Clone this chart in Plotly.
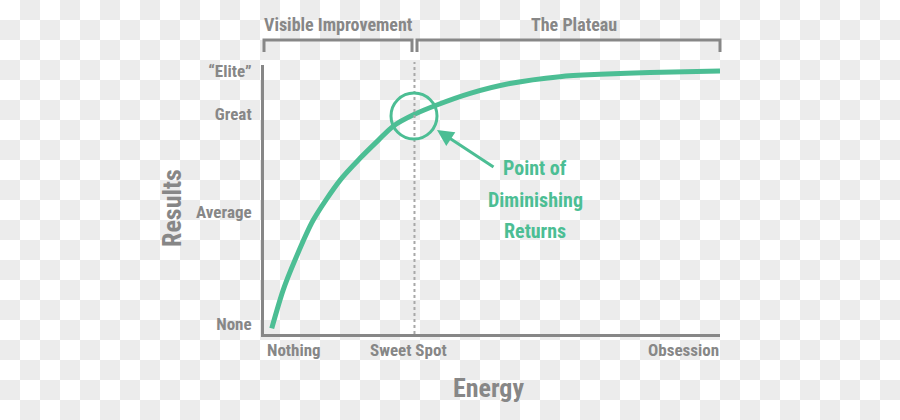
import zlib, struct, base64
import plotly.graph_objects as go

# ---- data ----
energy = [1.7, 4.2, 6.8, 10.8, 16.7, 21.1, 25.1, 28.4, 33.1, 37.9, 45.2, 53.9, 64.9, 73.7, 84.6, 100]
results = [-1.7, 13.4, 25.3, 41.1, 56.9, 65.6, 72.7, 78.3, 83.0, 86.6, 91.2, 95.1, 97.8, 98.7, 99.4, 100]
result_levels = [0, 44.3, 83, 100]
result_labels = ["None", "Average", "Great", "\u201cElite\u201d"]
energy_labels = ["Nothing", "Sweet Spot", "Obsession"]
sweet_spot = 33
phases = ["Visible Improvement", "The Plateau"]
callout = ["Point of", "Diminishing", "Returns"]

GREY = "#878787"
GREEN = "#4cbe94"
FONT = "Roboto Condensed, DejaVu Sans Condensed, sans-serif"
WEIGHT = "bold"

W, H = 900, 420
L, R, T, B = 264, 180, 65, 86
PW, PH = W - L - R, H - T - B


def px(xp):
    return (xp - L) / PW


def py(yp):
    return (H - B - yp) / PH


def checker_png(w, h, cell, c1, c2):
    rows = []
    for y in range(h):
        row = bytearray([0])
        ry = y // cell
        for cx in range(0, w, cell):
            col = c2 if ((cx // cell + ry) % 2) else c1
            row += bytes(col) * min(cell, w - cx)
        rows.append(bytes(row))
    raw = b"".join(rows)

    def chunk(t, d):
        c = struct.pack(">I", len(d)) + t + d
        return c + struct.pack(">I", zlib.crc32(t + d) & 0xFFFFFFFF)

    png = (b"\x89PNG\r\n\x1a\n"
           + chunk(b"IHDR", struct.pack(">IIBBBBB", w, h, 8, 2, 0, 0, 0))
           + chunk(b"IDAT", zlib.compress(raw, 9))
           + chunk(b"IEND", b""))
    return "data:image/png;base64," + base64.b64encode(png).decode()


fig = go.Figure()
fig.add_trace(go.Scatter(x=energy, y=results, mode="lines",
                         line=dict(color=GREEN, width=5, shape="spline", smoothing=0.8),
                         hoverinfo="skip", showlegend=False))

fig.update_layout(
    width=W, height=H,
    margin=dict(l=L, r=R, t=T, b=B, pad=0),
    paper_bgcolor="white",
    plot_bgcolor="rgba(0,0,0,0)",
    font=dict(family=FONT, color=GREY, weight=WEIGHT),
    showlegend=False,
    images=[dict(source=checker_png(W, H, 20, (255, 255, 255), (236, 236, 236)),
                 xref="paper", yref="paper", x=-L / PW, y=1 + T / PH,
                 sizex=W / PW, sizey=H / PH, xanchor="left", yanchor="top",
                 sizing="stretch", layer="below")],
)
fig.update_xaxes(range=[0, 100], showgrid=False, zeroline=False, showticklabels=False,
                 showline=True, linecolor=GREY, linewidth=3, ticks="", fixedrange=True)
fig.update_yaxes(range=[-3.95, 102.4], showgrid=False, zeroline=False,
                 tickvals=result_levels, ticktext=result_labels, ticks="",
                 ticklabelstandoff=6,
                 tickfont=dict(size=17, color=GREY, family=FONT, weight=WEIGHT),
                 showline=True, linecolor=GREY, linewidth=3, fixedrange=True)

shapes = []
# dotted sweet-spot line
shapes.append(dict(type="line", xref="x", yref="paper", x0=sweet_spot, x1=sweet_spot,
                   y0=0, y1=py(62), line=dict(color="#a8a8a8", width=2, dash="dot")))
# brackets
for x0p, x1p in [(264, 412), (417, 720)]:
    shapes.append(dict(type="path", xref="paper", yref="paper",
                       path=f"M{px(x0p)},{py(52)} L{px(x0p)},{py(40)} L{px(x1p)},{py(40)} L{px(x1p)},{py(52)}",
                       line=dict(color=GREY, width=3)))
# circle
shapes.append(dict(type="circle", xref="paper", yref="paper",
                   x0=px(391), x1=px(437), y0=py(139), y1=py(93),
                   line=dict(color=GREEN, width=3)))
fig.update_layout(shapes=shapes)


def label(text, xp, yp, size, color=GREY, xanchor="center", angle=0):
    return dict(text=text, x=px(xp), y=py(yp), xref="paper", yref="paper",
                xanchor=xanchor, yanchor="middle", textangle=angle, showarrow=False,
                font=dict(size=size, color=color, family=FONT, weight=WEIGHT))


ann = []
for txt, cx in zip(phases, [338, 574]):
    ann.append(label(txt, cx, 25, 18))
for txt, xp, anc in zip(energy_labels, [265, 408, 721], ["left", "center", "right"]):
    ann.append(label(txt, xp, 350, 17, xanchor=anc))
ann.append(label("Energy", 488, 388, 26))
ann.append(label("Results", 172, 208, 26, angle=-90))
for txt, yp in zip(callout, [168, 200, 231]):
    ann.append(label(txt, 535, yp, 20, color=GREEN))
ann.append(dict(text="", x=px(437), y=py(130), xref="paper", yref="paper",
                ax=58, ay=38, axref="pixel", ayref="pixel", showarrow=True,
                arrowhead=2, arrowsize=1.1, arrowwidth=3, arrowcolor=GREEN))
fig.update_layout(annotations=ann)

fig.write_html("out.html", config={"displayModeBar": False},
               post_script="document.body.style.margin='0';document.body.style.overflow='hidden';")
